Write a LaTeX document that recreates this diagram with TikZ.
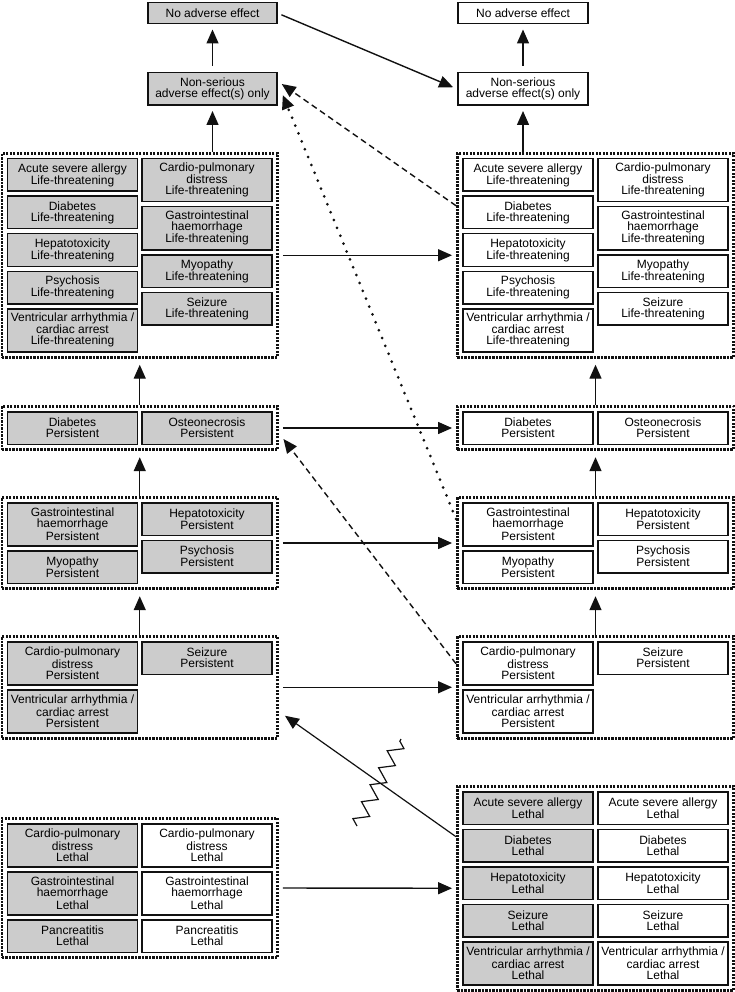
\documentclass[tikz,border=0pt]{standalone}
\usepackage{fontspec}
\setmainfont{Liberation Sans}
\usepackage{tikz}
\usetikzlibrary{arrows.meta,calc,positioning,fit,decorations.pathmorphing}
\definecolor{ink}{HTML}{111111}
\definecolor{boxgray}{HTML}{CCCCCC}

\begin{document}
\begin{tikzpicture}[x=1pt,y=-1pt,font=\fontsize{12}{11}\selectfont,
  box/.style={draw=ink,line width=1.5pt,inner sep=2pt,align=center,minimum width=130pt,anchor=north},
  shd/.style={box,fill=boxgray},
  wht/.style={box,fill=white},
  two/.style={minimum height=32.5pt},
  three/.style={minimum height=43pt},
  grp/.style={draw=ink,line width=2.8pt,dash pattern=on 2.2pt off 1.3pt,inner sep=4.8pt},
  ar/.style={-{Triangle[length=14pt,width=12pt]},line width=1.4pt,color=ink,shorten >=6pt},
  ard/.style={ar,dash pattern=on 6pt off 4pt,shorten >=0pt},
  ardot/.style={ar,line width=3pt,line cap=round,dash pattern=on 0pt off 8.5pt,shorten >=0pt}]
  \useasboundingbox (0,0) rectangle (735,992);
  % pixel grid, y downwards ; columns at x = 72.5, 207 (left) and 528, 663 (right)
  \node[shd,two,minimum width=129pt,minimum height=21pt] (no-l) at (212.5,2) {No adverse effect};
  \node[shd,two,minimum width=129pt] (ns-l) at (212.5,72) {Non-serious\\adverse effect(s) only};
  \node[wht,two,minimum height=21pt] (no-r) at (523,2) {No adverse effect};
  \node[wht,two] (ns-r) at (523,72) {Non-serious\\adverse effect(s) only};
  % life-threatening
  \node[shd,two]   (lt-all) at (72.5,158)  {Acute severe allergy\\Life-threatening};
  \node[shd,two]   (lt-dia) at (72.5,195.5){Diabetes\\Life-threatening};
  \node[shd,two]   (lt-hep) at (72.5,233)  {Hepatotoxicity\\Life-threatening};
  \node[shd,two]   (lt-psy) at (72.5,270.5){Psychosis\\Life-threatening};
  \node[shd,three] (lt-ven) at (72.5,308)  {Ventricular arrhythmia /\\cardiac arrest\\Life-threatening};
  \node[shd,three] (lt-car) at (207,158)   {Cardio-pulmonary\\distress\\Life-threatening};
  \node[shd,three] (lt-gas) at (207,206)   {Gastrointestinal\\haemorrhage\\Life-threatening};
  \node[shd,two]   (lt-myo) at (207,254)   {Myopathy\\Life-threatening};
  \node[shd,two]   (lt-sei) at (207,291.5) {Seizure\\Life-threatening};
  \node[grp,fit=(lt-all)(lt-ven)(lt-car)(lt-sei)] (LT) {};
  \node[wht,two]   (rt-all) at (528,158)   {Acute severe allergy\\Life-threatening};
  \node[wht,two]   (rt-dia) at (528,195.5) {Diabetes\\Life-threatening};
  \node[wht,two]   (rt-hep) at (528,233)   {Hepatotoxicity\\Life-threatening};
  \node[wht,two]   (rt-psy) at (528,270.5) {Psychosis\\Life-threatening};
  \node[wht,three] (rt-ven) at (528,308)   {Ventricular arrhythmia /\\cardiac arrest\\Life-threatening};
  \node[wht,three] (rt-car) at (663,158)   {Cardio-pulmonary\\distress\\Life-threatening};
  \node[wht,three] (rt-gas) at (663,206)   {Gastrointestinal\\haemorrhage\\Life-threatening};
  \node[wht,two]   (rt-myo) at (663,254)   {Myopathy\\Life-threatening};
  \node[wht,two]   (rt-sei) at (663,291.5) {Seizure\\Life-threatening};
  \node[grp,fit=(rt-all)(rt-ven)(rt-car)(rt-sei)] (RT) {};
  % persistent, three levels
  \node[shd,two] (lp2-dia) at (72.5,411) {Diabetes\\Persistent};
  \node[shd,two] (lp2-ost) at (207,411)  {Osteonecrosis\\Persistent};
  \node[grp,fit=(lp2-dia)(lp2-ost)] (LP2) {};
  \node[wht,two] (rp2-dia) at (528,411)  {Diabetes\\Persistent};
  \node[wht,two] (rp2-ost) at (663,411)  {Osteonecrosis\\Persistent};
  \node[grp,fit=(rp2-dia)(rp2-ost)] (RP2) {};
  \node[shd,three] (lp3-gas) at (72.5,502) {Gastrointestinal\\haemorrhage\\Persistent};
  \node[shd,two]   (lp3-myo) at (72.5,550) {Myopathy\\Persistent};
  \node[shd,two]   (lp3-hep) at (207,502)  {Hepatotoxicity\\Persistent};
  \node[shd,two]   (lp3-psy) at (207,539.5){Psychosis\\Persistent};
  \node[grp,fit=(lp3-gas)(lp3-myo)(lp3-hep)] (LP3) {};
  \node[wht,three] (rp3-gas) at (528,502)  {Gastrointestinal\\haemorrhage\\Persistent};
  \node[wht,two]   (rp3-myo) at (528,550)  {Myopathy\\Persistent};
  \node[wht,two]   (rp3-hep) at (663,502)  {Hepatotoxicity\\Persistent};
  \node[wht,two]   (rp3-psy) at (663,539.5){Psychosis\\Persistent};
  \node[grp,fit=(rp3-gas)(rp3-myo)(rp3-hep)] (RP3) {};
  \node[shd,three] (lp4-car) at (72.5,641) {Cardio-pulmonary\\distress\\Persistent};
  \node[shd,three] (lp4-ven) at (72.5,689) {Ventricular arrhythmia /\\cardiac arrest\\Persistent};
  \node[shd,two]   (lp4-sei) at (207,641)  {Seizure\\Persistent};
  \node[grp,fit=(lp4-car)(lp4-ven)(lp4-sei)] (LP4) {};
  \node[wht,three] (rp4-car) at (528,641)  {Cardio-pulmonary\\distress\\Persistent};
  \node[wht,three] (rp4-ven) at (528,689)  {Ventricular arrhythmia /\\cardiac arrest\\Persistent};
  \node[wht,two]   (rp4-sei) at (663,641)  {Seizure\\Persistent};
  \node[grp,fit=(rp4-car)(rp4-ven)(rp4-sei)] (RP4) {};
  % lethal
  \node[shd,three] (lla-car) at (72.5,823) {Cardio-pulmonary\\distress\\Lethal};
  \node[shd,three] (lla-gas) at (72.5,871) {Gastrointestinal\\haemorrhage\\Lethal};
  \node[shd,two]   (lla-pan) at (72.5,919) {Pancreatitis\\Lethal};
  \node[wht,three] (llb-car) at (207,823)  {Cardio-pulmonary\\distress\\Lethal};
  \node[wht,three] (llb-gas) at (207,871)  {Gastrointestinal\\haemorrhage\\Lethal};
  \node[wht,two]   (llb-pan) at (207,919)  {Pancreatitis\\Lethal};
  \node[grp,fit=(lla-car)(lla-pan)(llb-car)] (LL) {};
  \node[shd,two]   (rla-all) at (528,791)  {Acute severe allergy\\Lethal};
  \node[shd,two]   (rla-dia) at (528,828.5){Diabetes\\Lethal};
  \node[shd,two]   (rla-hep) at (528,866)  {Hepatotoxicity\\Lethal};
  \node[shd,two]   (rla-sei) at (528,903.5){Seizure\\Lethal};
  \node[shd,three] (rla-ven) at (528,941)  {Ventricular arrhythmia /\\cardiac arrest\\Lethal};
  \node[wht,two]   (rlb-all) at (663,791)  {Acute severe allergy\\Lethal};
  \node[wht,two]   (rlb-dia) at (663,828.5){Diabetes\\Lethal};
  \node[wht,two]   (rlb-hep) at (663,866)  {Hepatotoxicity\\Lethal};
  \node[wht,two]   (rlb-sei) at (663,903.5){Seizure\\Lethal};
  \node[wht,three] (rlb-ven) at (663,941)  {Ventricular arrhythmia /\\cardiac arrest\\Lethal};
  \node[grp,fit=(rla-all)(rla-ven)(rlb-all)] (RL) {};
  % upward steps in each column
  \draw[ar,shorten <=6pt,shorten >=5pt] (ns-l.north) -- (no-l.south);
  \draw[ar,shorten <=6pt,shorten >=5pt] (ns-r.north) -- (no-r.south);
  \draw[ar,shorten >=5pt] (LT.north -| ns-l) -- (ns-l.south);
  \draw[ar,shorten >=5pt] (RT.north -| ns-r) -- (ns-r.south);
  \draw[ar] (LP2) -- (LT);
  \draw[ar] (LP3) -- (LP2);
  \draw[ar] (LP4) -- (LP3);
  \draw[ar] (RP2) -- (RT);
  \draw[ar] (RP3) -- (RP2);
  \draw[ar] (RP4) -- (RP3);
  % across, left to right
  \draw[ar,shorten <=4pt,shorten >=4.5pt] (no-l.east) -- (ns-r.west);
  \draw[ar,shorten <=4pt,shorten >=4pt] (LT.east) -- (RT.west);
  \draw[ar,shorten <=4pt,shorten >=4pt] (LP2.east) -- (RP2.west);
  \draw[ar,shorten <=4pt,shorten >=4pt] (LP3.east) -- (RP3.west);
  \draw[ar,shorten <=4pt,shorten >=4pt] (LP4.east) -- (RP4.west);
  \draw[ar,shorten <=4pt,shorten >=4pt] (LL.east) -- (RL.west);
  % back, right to left
  \draw[ard] ([yshift=49.5pt]RT.west) -- ([xshift=4pt,yshift=5pt]ns-l.east);
  \draw[ardot] ([yshift=24pt]RP3.west) -- ([xshift=5pt,yshift=-6pt]ns-l.east);
  \draw[ard] ([yshift=23.5pt]RP4.west) -- ([xshift=4.5pt,yshift=-11pt]LP2.east);
  \draw[ar,line width=1.2pt,shorten >=0pt] ([yshift=51.5pt]RL.west) -- ([xshift=6pt,yshift=-28.5pt]LP4.east);
  \coordinate (zz1) at (357,826);
  \coordinate (zz2) at (401,739);
  \draw[ink,line width=1.2pt,decorate,decoration={zigzag,segment length=19pt,amplitude=7pt}] (zz1) -- (zz2);
\end{tikzpicture}
\end{document}
